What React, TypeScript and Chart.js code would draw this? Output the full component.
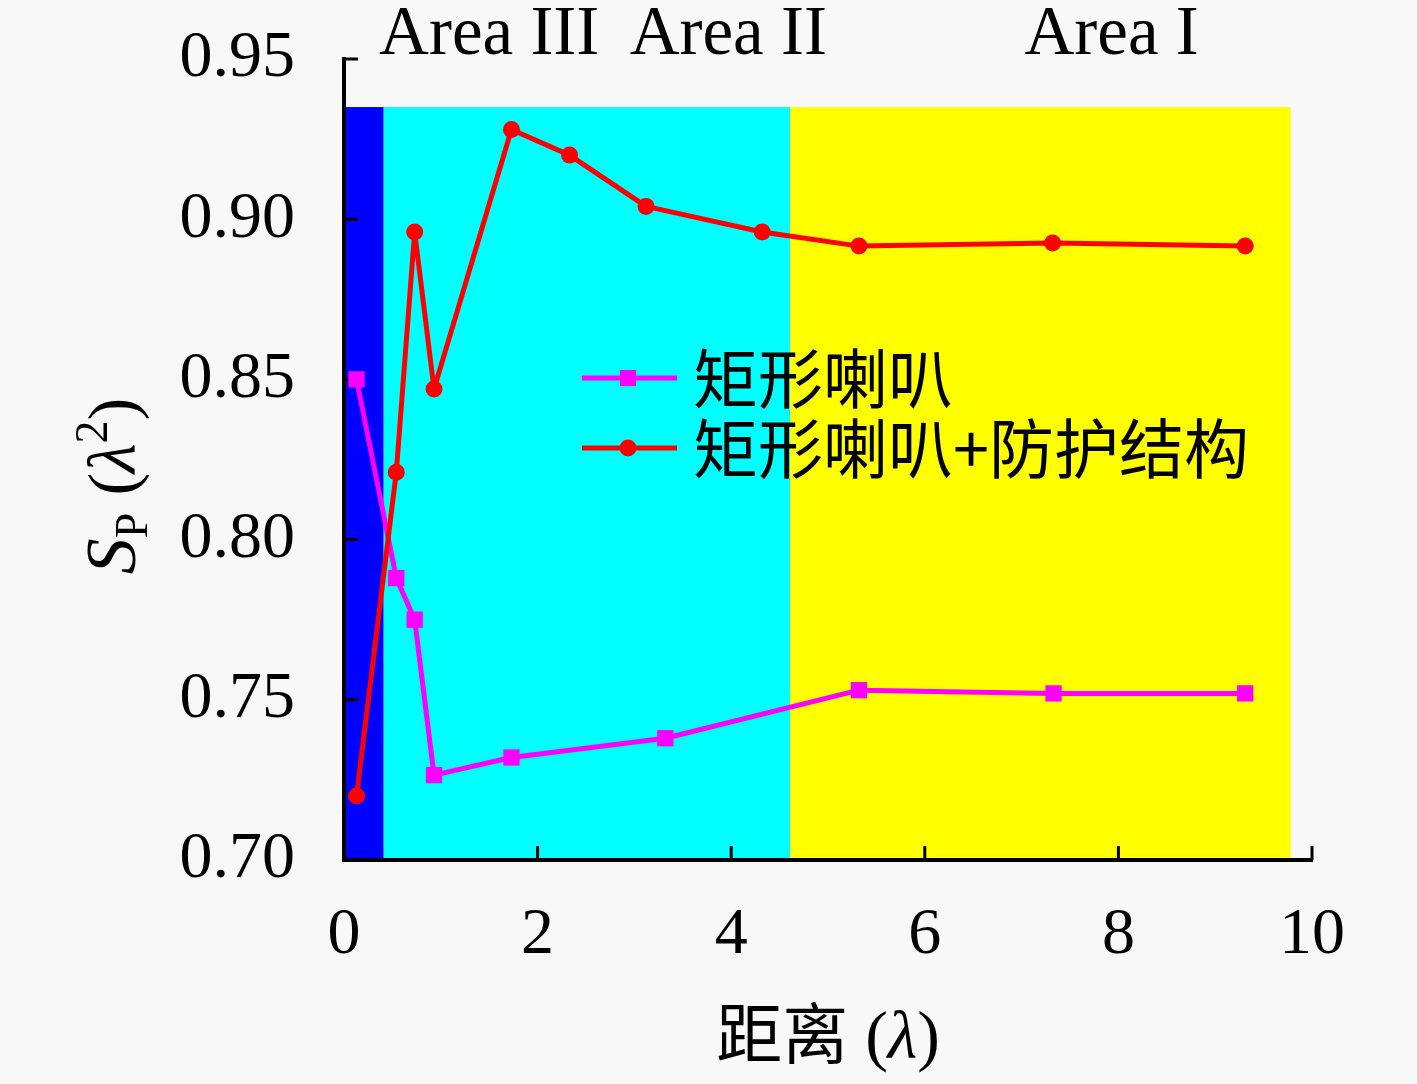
import { useEffect, useRef } from "react";
import { Chart, registerables } from "chart.js";

Chart.register(...registerables);

// distance (λ) and S_P (λ²)
const hornX = [0.13, 0.54, 0.73, 0.93, 1.73, 3.32, 5.32, 7.33, 9.31];
const hornY = [0.85, 0.788, 0.775, 0.7265, 0.732, 0.738, 0.753, 0.752, 0.752];
const shieldX = [0.13, 0.54, 0.73, 0.93, 1.73, 2.33, 3.12, 4.32, 5.32, 7.32, 9.31];
const shieldY = [0.72, 0.821, 0.896, 0.847, 0.928, 0.92, 0.904, 0.896, 0.8916, 0.8926, 0.8916];
const seriesNames = ["矩形喇叭", "矩形喇叭+防护结构"];

const xTicks = [0, 2, 4, 6, 8, 10];
const yTicks = [0.7, 0.75, 0.8, 0.85, 0.9, 0.95];

// shaded areas
const areaBounds = [0, 0.41, 4.61, 9.78];
const areaColors = ["#0000ff", "#00ffff", "#ffff00"];
const areaTop = 0.935;
const areaLabels = ["Area III", "Area II", "Area I"];
const areaLabelX = [1.5, 3.97, 7.93];

const SERIF = '"Liberation Serif", "Times New Roman", serif';
const CJK = '"Noto Sans CJK SC", "Noto Sans", sans-serif';
const BG = "#f8f8f8";

type Piece = { t: string; font: string; dy: number };

function drawPieces(ctx: CanvasRenderingContext2D, pieces: Piece[], cx: number) {
  let w = 0;
  pieces.forEach((p) => {
    ctx.font = p.font;
    w += ctx.measureText(p.t).width;
  });
  let x = cx - w / 2;
  pieces.forEach((p) => {
    ctx.font = p.font;
    ctx.fillText(p.t, x, p.dy);
    x += ctx.measureText(p.t).width;
  });
}

const decorPlugin = {
  id: "decor",
  beforeDraw(chart: any) {
    const { ctx } = chart;
    const { x, y } = chart.scales;
    ctx.save();
    ctx.fillStyle = BG;
    ctx.fillRect(0, 0, chart.width, chart.height);
    const top = y.getPixelForValue(areaTop);
    const bottom = y.getPixelForValue(yTicks[0]);
    areaColors.forEach((c, i) => {
      const l = x.getPixelForValue(areaBounds[i]);
      const r = x.getPixelForValue(areaBounds[i + 1]);
      ctx.fillStyle = c;
      ctx.fillRect(l, top, r - l, bottom - top);
    });
    ctx.restore();
  },
  beforeDatasetsDraw(chart: any) {
    const { ctx, chartArea } = chart;
    const { x, y } = chart.scales;
    ctx.save();
    ctx.strokeStyle = "#000";
    ctx.lineWidth = 3;
    ctx.beginPath();
    yTicks.slice(1).forEach((v) => {
      const py = y.getPixelForValue(v);
      ctx.moveTo(chartArea.left, py);
      ctx.lineTo(chartArea.left + 14, py);
    });
    xTicks.slice(1).forEach((v) => {
      const px = x.getPixelForValue(v);
      ctx.moveTo(px, chartArea.bottom);
      ctx.lineTo(px, chartArea.bottom - 14);
    });
    ctx.stroke();
    ctx.restore();
  },
  afterDraw(chart: any) {
    const { ctx, chartArea } = chart;
    const { x } = chart.scales;
    ctx.save();
    ctx.fillStyle = "#000";

    // area labels above the plot
    ctx.textAlign = "left";
    ctx.textBaseline = "alphabetic";
    ctx.font = `69px ${SERIF}`;
    areaLabels.forEach((t, i) => {
      const w = ctx.measureText(t).width;
      ctx.fillText(t, x.getPixelForValue(areaLabelX[i]) - w / 2, 54);
    });

    // y axis title: S_P (λ²)
    ctx.save();
    ctx.translate(135, 486);
    ctx.rotate(-Math.PI / 2);
    drawPieces(
      ctx,
      [
        { t: "S", font: `italic 72px ${SERIF}`, dy: 0 },
        { t: "P", font: `46px ${SERIF}`, dy: 12 },
        { t: " (", font: `68px ${SERIF}`, dy: 0 },
        { t: "λ", font: `italic 68px ${SERIF}`, dy: 0 },
        { t: "2", font: `46px ${SERIF}`, dy: -28 },
        { t: ")", font: `68px ${SERIF}`, dy: 0 },
      ],
      0
    );
    ctx.restore();

    // x axis title: 距离 (λ)
    ctx.save();
    ctx.translate(0, 1058);
    drawPieces(
      ctx,
      [
        { t: "距离", font: `66px ${CJK}`, dy: 0 },
        { t: " (", font: `68px ${SERIF}`, dy: 0 },
        { t: "λ", font: `italic 68px ${SERIF}`, dy: 0 },
        { t: ")", font: `68px ${SERIF}`, dy: 0 },
      ],
      (chartArea.left + chartArea.right) / 2
    );
    ctx.restore();

    // legend
    const legendY = [378, 448];
    const colors = ["#ff00ff", "#ff0000"];
    seriesNames.forEach((name, i) => {
      const ly = legendY[i];
      ctx.strokeStyle = colors[i];
      ctx.lineWidth = 5;
      ctx.beginPath();
      ctx.moveTo(582, ly);
      ctx.lineTo(677, ly);
      ctx.stroke();
      ctx.fillStyle = colors[i];
      ctx.beginPath();
      if (i === 0) ctx.rect(620, ly - 8, 16, 16);
      else ctx.arc(628, ly, 8.5, 0, Math.PI * 2);
      ctx.fill();
      ctx.fillStyle = "#000";
      ctx.font = `65px ${CJK}`;
      ctx.textBaseline = "middle";
      ctx.fillText(name, 693, ly);
    });
    ctx.restore();
  },
};

export default function App() {
  const chartRef = useRef<HTMLCanvasElement>(null);
  const chartInstance = useRef<Chart | null>(null);

  useEffect(() => {
    if (!chartRef.current) return;
    if (chartInstance.current) chartInstance.current.destroy();
    const ctx = chartRef.current.getContext("2d");
    if (!ctx) return;

    chartInstance.current = new Chart(ctx, {
      type: "line",
      data: {
        datasets: [
          {
            label: seriesNames[1],
            data: shieldX.map((v, i) => ({ x: v, y: shieldY[i] })),
            borderColor: "#ff0000",
            backgroundColor: "#ff0000",
            borderWidth: 5,
            borderJoinStyle: "round",
            pointStyle: "circle",
            pointRadius: 8.5,
            pointBorderWidth: 0,
            tension: 0,
            order: 0,
          },
          {
            label: seriesNames[0],
            data: hornX.map((v, i) => ({ x: v, y: hornY[i] })),
            borderColor: "#ff00ff",
            backgroundColor: "#ff00ff",
            borderWidth: 5,
            borderJoinStyle: "round",
            pointStyle: "rect",
            pointRadius: 11.5,
            pointBorderWidth: 0,
            tension: 0,
            order: 1,
          },
        ],
      },
      options: {
        responsive: false,
        animation: false,
        layout: { padding: { left: 0, right: 105, top: 59, bottom: 0 } },
        plugins: {
          legend: { display: false },
          tooltip: { enabled: false },
        },
        scales: {
          x: {
            type: "linear",
            min: 0,
            max: 10,
            afterBuildTicks: (s: any) => {
              s.ticks = xTicks.map((v) => ({ value: v }));
            },
            afterFit: (s: any) => {
              s.height = 224;
              s.paddingLeft = 0;
              s.paddingRight = 0;
            },
            grid: { display: false, drawTicks: false },
            border: { display: true, color: "#000", width: 4 },
            ticks: {
              color: "#000",
              padding: 36,
              maxRotation: 0,
              autoSkip: false,
              font: { family: SERIF, size: 66 },
              callback: (v: any) => String(v),
            },
          },
          y: {
            type: "linear",
            min: 0.7,
            max: 0.95,
            afterBuildTicks: (s: any) => {
              s.ticks = yTicks.map((v) => ({ value: v }));
            },
            afterFit: (s: any) => {
              s.width = 344;
              s.paddingTop = 0;
              s.paddingBottom = 0;
            },
            grid: { display: false, drawTicks: false },
            border: { display: true, color: "#000", width: 4 },
            ticks: {
              color: "#000",
              padding: 49,
              autoSkip: false,
              font: { family: SERIF, size: 66 },
              callback: (v: any) => Number(v).toFixed(2),
            },
          },
        },
      },
      plugins: [decorPlugin],
    });

    return () => {
      if (chartInstance.current) {
        chartInstance.current.destroy();
        chartInstance.current = null;
      }
    };
  }, []);

  return (
    <div
      style={{
        position: "fixed",
        left: 0,
        top: 0,
        width: 1417,
        height: 1084,
        background: BG,
      }}
    >
      <canvas ref={chartRef} width={1417} height={1084} style={{ display: "block" }} />
    </div>
  );
}
